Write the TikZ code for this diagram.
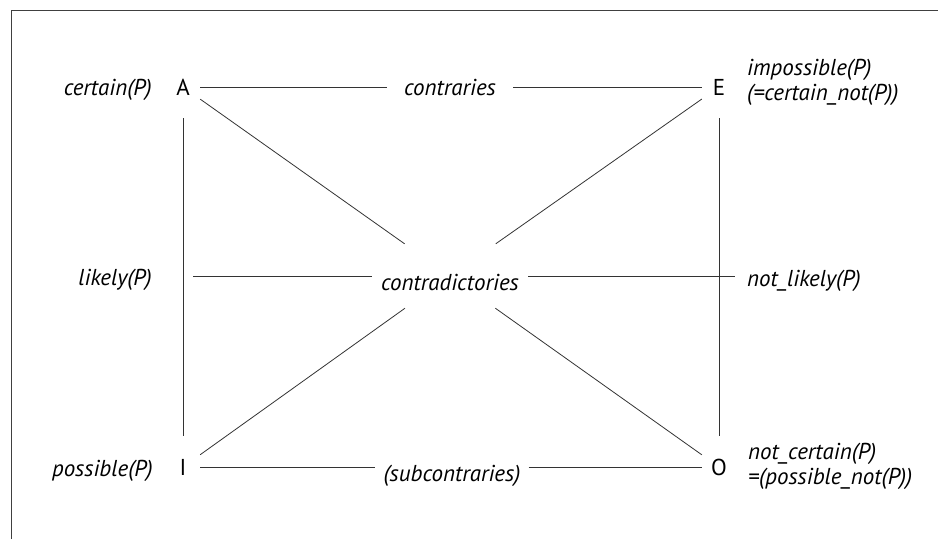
\documentclass[tikz,border=0pt]{standalone}
\usepackage{fontspec}
\setmainfont{PT Sans}

\begin{document}
\begin{tikzpicture}[x=1pt, y=-1pt,
    every node/.style={font=\fontsize{23}{24.5}\selectfont},
    corner/.style={inner sep=0pt, minimum width=34pt, minimum height=62pt, text height=16pt, text depth=0pt},
    rel/.style={font=\fontsize{23}{24.5}\selectfont\itshape, inner xsep=17pt, inner ysep=0pt, text height=16pt, text depth=0pt},
    modal/.style={font=\fontsize{23}{24.5}\selectfont\itshape, inner sep=0pt},
    edge/.style={draw=black!80, line width=0.8pt}]
  \useasboundingbox (0,0) rectangle (938,539);
  \draw[black!75, line width=0.8pt] (11,539) -- (11,10) -- (938,10);

  % corners of the square
  \node[corner] (A) at (183,87) {A};
  \node[corner] (E) at (719,87) {E};
  \node[corner] (I) at (183,467) {I};
  \node[corner] (O) at (719,467) {O};

  % relations
  \node[rel] (contr) at (450,87) {contraries};
  \node[rel, inner xsep=9pt, inner ysep=18pt, text height=28pt] (cdict) at (450,276) {contradictories};
  \node[rel, inner xsep=8pt, text height=28pt] (subc) at (452,467) {(subcontraries)};
  \coordinate (mleft) at (193,276);
  \coordinate (mright) at (735,276);

  % modal readings
  \node[modal, anchor=base east] (cert) at (152,95) {certain(P)};
  \node[modal, anchor=base east] (likely) at (152,285) {likely(P)};
  \node[modal, anchor=base east] (poss) at (153,476) {possible(P)};
  \node[modal, anchor=north west, align=left] (imposs) at (747,59) {impossible(P)\\(=certain\_not(P))};
  \node[modal, anchor=base west] (nlikely) at (747,286) {not\_likely(P)};
  \node[modal, anchor=north west, align=left] (ncert) at (748,443) {not\_certain(P)\\=(possible\_not(P))};

  \draw[edge] (A) -- (contr);
  \draw[edge] (contr) -- (E);
  \draw[edge] (I) -- (subc);
  \draw[edge] (subc) -- (O);
  \draw[edge] (A) -- (I);
  \draw[edge] (E) -- (O);
  \draw[edge] (A) -- (cdict);
  \draw[edge] (E) -- (cdict);
  \draw[edge] (I) -- (cdict);
  \draw[edge] (O) -- (cdict);
  \draw[edge] (mleft) -- (cdict);
  \draw[edge] (cdict) -- (mright);
\end{tikzpicture}
\end{document}
